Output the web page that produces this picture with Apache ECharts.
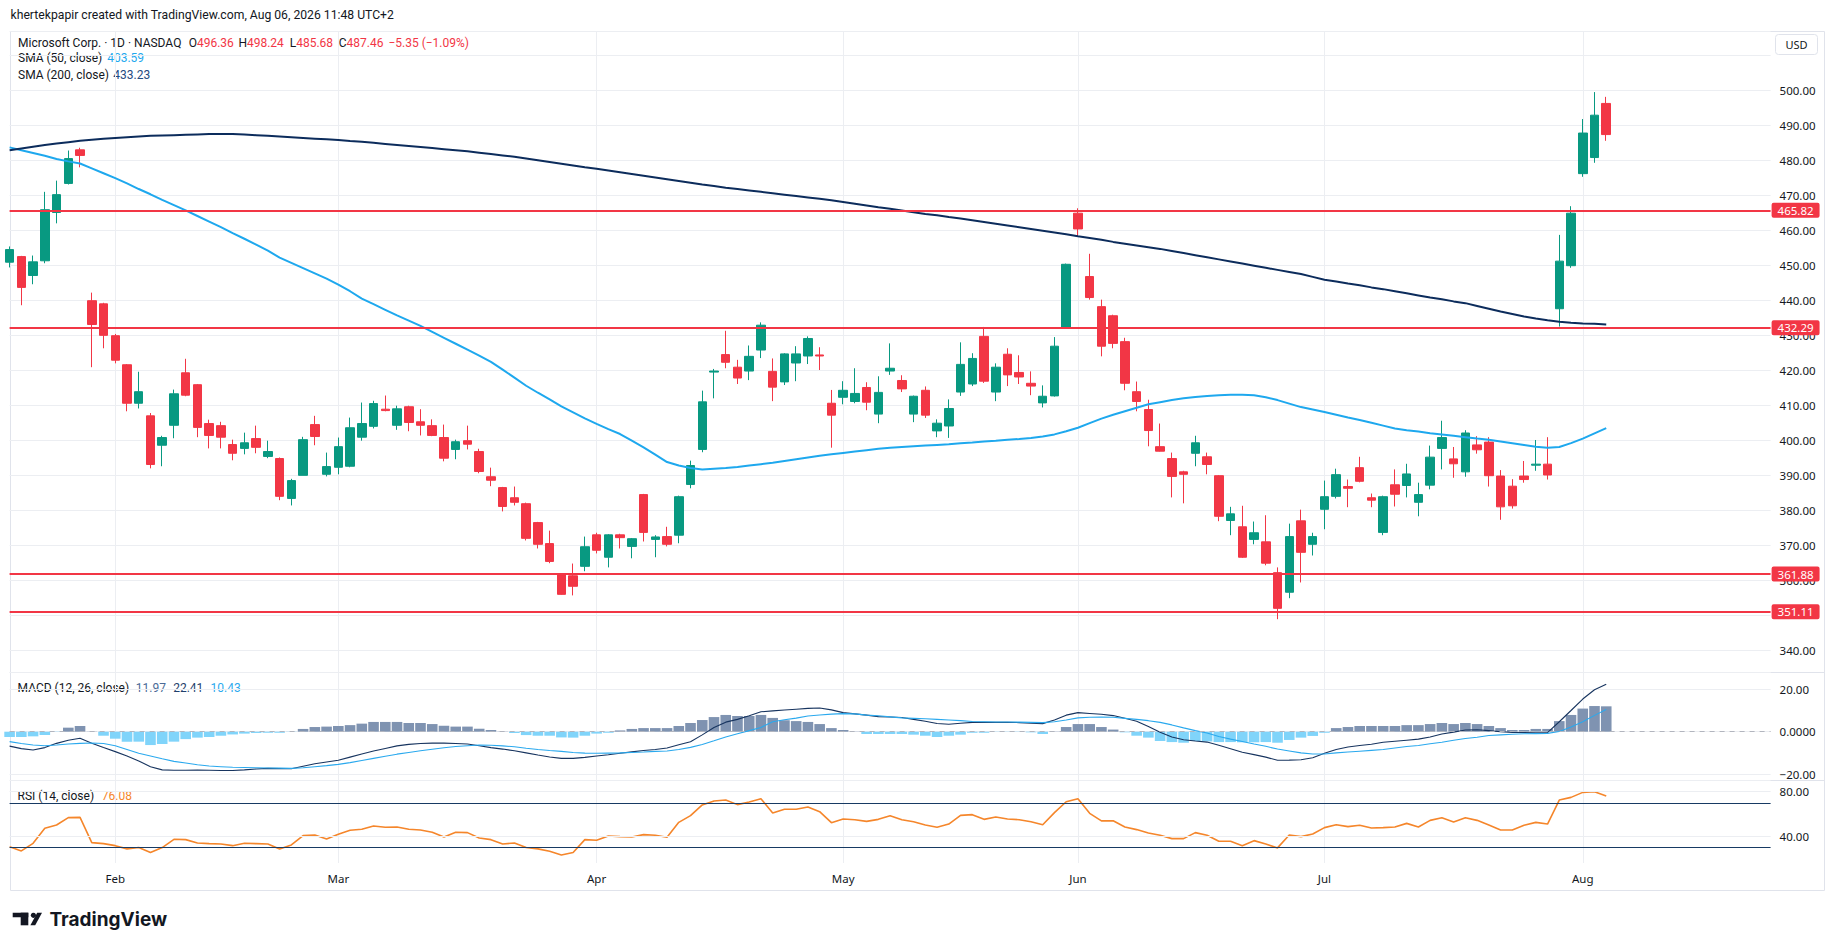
<!DOCTYPE html>
<html>
<head>
<meta charset="utf-8">
<script src="https://cdn.jsdelivr.net/npm/echarts@6/dist/echarts.min.js"></script>
<style>
html,body{margin:0;padding:0;background:#fff;}
#c{width:1835px;height:951px;}
</style>
</head>
<body>
<div id="c"></div>
<script>
// ---------- DATA ----------
const categories = [
"2026-01-20","2026-01-21","2026-01-22","2026-01-23","2026-01-26","2026-01-27","2026-01-28","2026-01-29","2026-01-30",
"2026-02-02","2026-02-03","2026-02-04","2026-02-05","2026-02-06","2026-02-09","2026-02-10","2026-02-11","2026-02-12","2026-02-13",
"2026-02-17","2026-02-18","2026-02-19","2026-02-20","2026-02-23","2026-02-24","2026-02-25","2026-02-26","2026-02-27",
"2026-03-02","2026-03-03","2026-03-04","2026-03-05","2026-03-06","2026-03-09","2026-03-10","2026-03-11","2026-03-12","2026-03-13",
"2026-03-16","2026-03-17","2026-03-18","2026-03-19","2026-03-20","2026-03-23","2026-03-24","2026-03-25","2026-03-26","2026-03-27",
"2026-03-30","2026-03-31",
"2026-04-01","2026-04-02","2026-04-06","2026-04-07","2026-04-08","2026-04-09","2026-04-10","2026-04-13","2026-04-14","2026-04-15",
"2026-04-16","2026-04-17","2026-04-20","2026-04-21","2026-04-22","2026-04-23","2026-04-24","2026-04-27","2026-04-28","2026-04-29","2026-04-30",
"2026-05-01","2026-05-04","2026-05-05","2026-05-06","2026-05-07","2026-05-08","2026-05-11","2026-05-12","2026-05-13","2026-05-14",
"2026-05-15","2026-05-18","2026-05-19","2026-05-20","2026-05-21","2026-05-22","2026-05-26","2026-05-27","2026-05-28","2026-05-29",
"2026-06-01","2026-06-02","2026-06-03","2026-06-04","2026-06-05","2026-06-08","2026-06-09","2026-06-10","2026-06-11","2026-06-12",
"2026-06-15","2026-06-16","2026-06-17","2026-06-18","2026-06-22","2026-06-23","2026-06-24","2026-06-25","2026-06-26","2026-06-29","2026-06-30",
"2026-07-01","2026-07-02","2026-07-06","2026-07-07","2026-07-08","2026-07-09","2026-07-10","2026-07-13","2026-07-14","2026-07-15",
"2026-07-16","2026-07-17","2026-07-20","2026-07-21","2026-07-22","2026-07-23","2026-07-24","2026-07-27","2026-07-28","2026-07-29",
"2026-07-30","2026-07-31",
"2026-08-03","2026-08-04","2026-08-05",
"2026-08-06","2026-08-07","2026-08-10","2026-08-11","2026-08-12","2026-08-13","2026-08-14","2026-08-17","2026-08-18","2026-08-19",
"2026-08-20","2026-08-21","2026-08-24","2026-08-25"
];
const monthTickLabels = {"2026-02-02":"Feb","2026-03-02":"Mar","2026-04-01":"Apr","2026-05-01":"May","2026-06-01":"Jun","2026-07-01":"Jul","2026-08-03":"Aug"};

const opens = [451.0,452.6,447.2,451.4,465.2,473.5,483.1,440.0,439.1,430.0,
421.7,410.7,407.1,398.7,404.4,419.4,416.0,404.9,404.3,398.9,
397.8,400.6,395.5,394.9,383.5,390.1,404.6,390.4,392.4,392.7,
401.0,404.1,409.0,404.4,409.7,405.4,404.3,400.9,397.5,400.0,
396.9,389.7,386.6,383.7,382.0,376.6,370.6,361.7,361.4,364.1,
373.1,366.7,373.1,369.8,384.6,371.8,372.6,373.0,387.5,397.5,
419.6,424.6,421.0,419.9,425.9,419.8,416.8,422.2,424.2,424.5,
410.7,412.4,411.2,415.2,407.6,419.9,417.2,407.6,414.4,402.8,
404.2,413.9,416.2,429.8,413.9,424.7,419.5,416.4,410.8,412.8,
432.2,465.0,446.9,438.3,435.7,428.3,414.0,408.9,398.3,394.9,
391.1,396.4,395.4,390.0,377.2,375.4,371.8,371.1,362.3,356.7,
377.1,370.4,380.4,384.1,386.9,392.3,383.7,373.8,387.4,387.2,
382.4,387.3,397.8,394.8,391.1,398.8,399.6,389.9,387.0,389.9,
393.0,393.3,437.7,450.0,476.3,480.9,496.36];
const highs = [455.5,452.8,452.9,471.1,474.3,482.9,483.7,442.3,439.4,430.5,
421.9,419.7,407.9,401.4,414.6,423.4,416.2,406.0,405.4,400.3,
402.3,404.3,400.0,395.2,389.1,401.1,407.1,396.6,400.9,406.6,
410.9,411.4,412.9,410.0,410.0,409.0,406.1,404.6,400.3,404.3,
397.7,392.3,386.8,386.9,382.3,376.8,374.3,362.0,364.9,372.6,
373.7,373.3,373.4,372.2,384.8,373.0,375.4,384.3,394.3,414.3,
420.5,431.4,423.1,427.2,433.8,423.5,425.0,427.0,429.8,426.7,
414.5,417.0,420.7,416.7,418.4,427.8,418.7,412.9,415.5,406.1,
411.8,428.1,425.0,432.5,422.1,426.4,424.4,419.8,415.8,429.6,
450.6,466.4,453.4,440.3,436.0,429.4,416.9,411.7,404.9,396.6,
391.4,401.4,396.6,390.2,381.1,381.4,376.9,378.7,363.8,376.3,
380.3,373.7,388.6,392.0,388.9,395.4,384.9,384.3,391.8,393.4,
388.0,398.6,405.7,398.2,403.0,401.3,401.0,391.6,389.0,394.2,
400.2,401.0,458.8,467.0,491.9,499.6,498.24];
const lows = [449.5,438.7,444.7,450.7,462.1,473.2,478.1,421.0,426.4,422.1,
408.4,409.2,392.1,392.7,400.7,412.7,401.0,397.8,397.8,394.4,
396.1,396.4,395.0,383.0,381.5,390.1,398.7,389.8,390.4,392.4,
400.0,403.5,408.4,403.1,402.7,401.5,401.3,394.1,394.7,397.5,
390.7,387.0,379.8,381.5,371.5,369.2,365.0,356.0,355.8,362.7,
367.8,363.8,369.2,366.4,371.2,366.7,369.8,370.7,386.4,396.7,
412.1,420.7,416.2,417.3,423.6,411.3,415.9,417.0,421.9,420.2,
398.0,410.4,410.7,408.7,405.0,418.8,413.9,405.3,406.5,401.0,
400.8,412.8,415.6,416.5,411.3,415.6,416.2,413.0,409.5,412.6,
432.0,458.5,440.3,424.1,426.4,414.4,408.4,398.4,396.9,383.8,
382.1,392.7,390.4,377.0,373.0,366.5,370.4,364.4,349.0,355.0,
359.5,367.2,374.7,383.5,381.0,388.1,381.0,373.0,381.2,383.8,
378.4,386.1,391.8,389.4,389.7,396.3,386.9,377.4,380.6,388.0,
391.4,388.9,432.6,449.4,475.4,479.4,485.68];
const closes = [454.6,443.8,451.1,466.0,470.3,480.6,481.5,433.2,430.1,423.0,
410.7,414.0,393.2,400.9,413.4,413.0,403.8,401.5,401.0,396.4,
399.4,398.1,396.9,384.1,388.6,400.3,401.2,392.6,398.3,403.7,
404.9,410.6,408.6,409.1,405.2,404.4,401.5,395.0,399.7,399.0,
391.2,388.7,381.2,382.4,372.1,370.4,365.5,356.1,358.4,369.7,
368.7,373.1,372.3,372.0,373.8,372.5,370.4,384.0,392.9,411.1,
419.9,422.4,417.9,424.1,433.0,415.3,424.8,424.8,429.2,424.2,
407.3,414.4,413.5,411.0,413.8,420.7,414.8,412.7,407.3,405.0,
409.2,421.8,423.5,417.0,421.0,418.8,418.2,415.6,412.7,427.0,
450.4,460.5,440.9,427.0,427.8,416.4,411.2,402.9,397.0,389.8,
390.4,399.4,393.2,378.4,379.1,366.7,373.7,365.0,352.1,372.6,
368.1,372.6,384.0,390.3,386.4,388.4,383.0,384.0,384.7,390.5,
384.6,395.3,400.9,393.4,402.2,397.4,390.0,381.1,381.4,388.9,
393.3,390.2,451.3,465.0,487.9,493.0,487.46];

const sma50 = [483.8,483.0,482.2,481.4,480.5,479.8,479.2,477.8,476.4,475.0,
473.5,471.9,470.4,468.8,467.3,465.8,464.2,462.6,461.0,459.3,
457.7,456.0,454.3,452.3,450.8,449.3,447.8,446.3,444.6,442.7,
440.6,439.0,437.4,435.8,434.3,432.8,431.1,429.4,427.7,426.0,
424.3,422.5,420.3,418.0,415.7,413.7,411.8,409.8,408.1,406.4,
404.8,403.3,401.9,400.0,398.1,396.0,393.9,392.9,392.2,391.8,
392.0,392.2,392.5,392.9,393.3,393.7,394.2,394.7,395.2,395.7,
396.1,396.5,396.9,397.3,397.7,398.0,398.2,398.4,398.6,398.8,
399.0,399.3,399.5,399.8,400.0,400.3,400.5,400.8,401.2,401.8,
402.7,403.7,405.0,406.3,407.4,408.4,409.4,410.4,411.0,411.6,
412.1,412.5,412.8,413.0,413.1,413.1,413.0,412.4,411.6,410.6,
409.6,408.9,408.2,407.4,406.6,405.9,405.1,404.3,403.5,403.0,
402.6,402.1,401.8,401.4,401.0,400.6,400.3,399.8,399.3,398.8,
398.3,398.0,398.2,399.3,400.6,402.1,403.59];
const sma200 = [483.0,483.5,484.0,484.5,484.9,485.3,485.7,486.0,486.3,486.5,
486.7,486.9,487.1,487.2,487.3,487.4,487.5,487.6,487.6,487.6,
487.5,487.3,487.1,486.9,486.7,486.5,486.3,486.1,485.9,485.6,
485.4,485.1,484.8,484.5,484.2,483.9,483.6,483.3,483.0,482.7,
482.3,481.9,481.5,481.1,480.6,480.1,479.6,479.1,478.6,478.1,
477.7,477.2,476.7,476.2,475.7,475.2,474.7,474.2,473.7,473.2,
472.8,472.3,471.9,471.5,471.1,470.7,470.3,469.9,469.5,469.1,
468.7,468.2,467.7,467.2,466.7,466.3,465.8,465.3,464.8,464.4,
463.9,463.5,463.0,462.5,462.0,461.5,461.0,460.5,460.0,459.5,
459.0,458.4,457.9,457.4,456.8,456.3,455.8,455.3,454.8,454.2,
453.6,453.0,452.4,451.8,451.2,450.6,450.0,449.4,448.8,448.2,
447.6,446.8,446.0,445.5,444.9,444.4,443.8,443.3,442.7,442.1,
441.5,440.9,440.4,439.8,439.3,438.5,437.7,436.9,436.2,435.5,
434.9,434.4,434.0,433.7,433.5,433.4,433.23];

const macdLine = [-6.8,-8.0,-8.6,-7.5,-5.5,-4.0,-3.1,-5.5,-7.5,-9.4,
-11.5,-13.8,-16.5,-18.0,-18.2,-18.2,-18.1,-18.2,-18.3,-18.3,
-18.0,-17.6,-17.3,-17.4,-17.5,-16.3,-15.1,-14.3,-13.5,-12.0,
-10.5,-9.1,-7.9,-6.7,-6.0,-5.6,-5.4,-5.4,-5.6,-5.8,
-6.6,-7.5,-8.2,-9.0,-10.0,-11.0,-11.9,-12.6,-12.6,-12.1,
-11.5,-10.9,-10.2,-9.5,-8.9,-8.4,-7.7,-6.2,-4.7,-1.5,
2.0,4.5,5.8,7.5,9.4,9.8,10.2,10.6,11.0,11.2,
10.3,9.0,8.4,7.8,7.1,6.9,6.7,5.8,4.9,3.9,
3.5,4.0,4.4,4.4,4.4,4.4,4.3,4.0,3.8,5.5,
7.8,9.0,8.6,8.2,7.6,6.3,4.9,2.5,-0.3,-2.5,
-3.8,-4.4,-4.9,-6.4,-8.0,-9.7,-10.8,-12.0,-13.5,-13.4,
-13.2,-12.3,-10.2,-8.4,-7.2,-6.5,-5.9,-5.0,-4.5,-4.0,
-3.5,-2.5,-1.1,-0.2,0.8,0.9,0.5,0.0,-0.3,-0.4,
-0.5,-0.4,4.7,10.0,15.4,19.8,22.41];
const signalLine = [-4.7,-5.6,-6.3,-6.6,-6.3,-5.8,-5.5,-5.3,-5.6,-6.6,
-8.4,-10.2,-11.5,-12.8,-14.0,-14.8,-15.6,-16.2,-16.5,-16.8,
-16.9,-17.0,-17.1,-17.2,-17.3,-17.0,-16.5,-16.0,-15.4,-14.6,
-13.6,-12.6,-11.6,-10.6,-9.8,-9.0,-8.3,-7.6,-7.0,-6.6,
-6.3,-6.4,-6.7,-7.1,-7.8,-8.4,-8.9,-9.3,-9.8,-10.1,
-10.2,-10.1,-10.0,-9.8,-9.6,-9.3,-9.1,-8.4,-7.4,-6.0,
-4.3,-2.5,-1.0,0.5,2.0,4.7,5.6,6.4,7.4,7.9,
8.3,8.5,8.4,7.8,7.5,7.0,6.5,6.3,6.1,5.8,
5.5,5.2,4.8,4.7,4.6,4.6,4.5,4.4,4.3,4.7,
5.5,6.5,6.8,6.9,6.8,6.3,5.8,5.2,4.4,3.2,
1.8,0.5,-0.6,-2.3,-3.5,-4.6,-5.8,-6.9,-8.2,-9.1,
-10.0,-10.5,-10.5,-10.0,-9.6,-9.2,-8.8,-8.4,-7.7,-7.0,
-6.5,-5.7,-5.0,-4.0,-3.2,-2.6,-1.8,-1.5,-1.2,-1.0,
-0.9,-0.8,0.1,2.2,4.7,7.7,10.43];
const macdHist = [-2.5,-2.5,-2.2,-1.6,-0.1,1.9,2.7,0.1,-1.9,-3.3,
-4.7,-4.7,-6.3,-5.8,-4.7,-3.5,-2.8,-2.5,-1.9,-1.3,
-0.9,-0.6,-0.5,-0.5,-0.1,1.3,2.2,2.4,2.7,3.1,
3.8,4.6,4.6,4.6,4.1,4.1,3.6,2.8,2.4,2.4,
1.4,0.8,0.1,-0.6,-1.6,-1.9,-1.9,-2.7,-2.8,-1.9,
-0.9,-0.5,0.6,1.3,1.7,1.7,1.7,2.7,4.1,5.5,
6.9,7.9,7.4,7.4,7.9,6.5,5.4,5.0,4.6,3.6,
1.7,0.8,0.1,-1.1,-1.1,-1.1,-1.1,-1.4,-1.9,-2.5,
-1.9,-1.4,-0.5,-0.5,-0.1,-0.1,-0.1,-0.3,-1.1,0.1,
2.2,3.6,3.6,2.2,1.0,-0.3,-1.9,-2.8,-4.4,-4.9,
-5.2,-4.4,-4.6,-4.9,-4.9,-5.0,-5.0,-4.9,-5.2,-3.9,
-2.8,-2.0,-0.5,1.7,2.2,2.7,2.7,2.7,2.7,3.1,
3.1,3.6,4.1,3.6,4.1,3.6,2.7,1.7,0.8,0.8,
1.3,1.3,5.0,7.9,10.9,12.1,11.97];
const rsi = [30.7,26.9,33.7,47.2,50.1,56.7,57.0,34.3,33.4,31.6,
28.7,29.9,25.4,29.9,37.3,37.0,34.0,33.4,33.1,31.6,
33.7,33.4,33.1,28.7,32.2,40.6,41.2,37.6,41.8,45.4,
46.3,49.3,48.1,48.4,46.3,45.7,43.6,39.4,43.6,43.3,
38.5,37.0,33.1,34.0,29.9,28.7,26.6,23.2,25.4,37.0,
36.4,40.3,39.7,39.4,41.5,40.9,39.1,52.5,58.5,68.1,
71.6,72.5,68.4,70.7,73.7,60.9,64.2,64.2,66.3,62.1,
52.2,55.5,54.9,53.4,55.2,58.5,54.9,53.1,50.1,48.1,
51.0,58.8,59.4,55.2,57.3,55.5,54.9,53.1,50.4,61.2,
71.0,73.7,60.6,53.8,54.0,48.4,46.0,43.0,40.9,37.9,
37.9,43.3,40.9,35.5,35.5,31.6,36.1,33.1,29.6,41.2,
39.7,42.1,47.8,50.4,48.7,49.9,47.5,47.8,48.4,51.6,
48.4,54.3,56.7,52.8,56.7,54.3,50.1,45.7,45.7,49.9,
52.5,51.0,72.5,74.9,79.4,80.0,76.08];

const levels = [465.82, 432.29, 361.88, 351.11];
const rsiGuides = [80, 40];
const rsiBands = [70, 30];

// ---------- STYLE ----------
const UP = '#089981', DOWN = '#f23645';
const GRID = '#eceef2';
const TXT = '#131722';
const AXF = 'Noto Sans';
const AXS = 11.5;
const LGF = 'Roboto';
const L = 9.6, R = 64.4;

const candleData = opens.map((o, k) => [o, closes[k], lows[k], highs[k]]);
const fmt2 = v => (v < 0 ? '\u2212' : '') + Math.abs(v).toFixed(2);
// price labels fully covered by a level tag are left out
const coveredByLevel = v => levels.some(l => Math.abs(l - v) < 1.5);

function xAx(idx, showLabels) {
  return {
    type: 'category', gridIndex: idx, data: categories, boundaryGap: false,
    axisLine: {show: false}, axisTick: {show: false},
    axisLabel: {
      show: showLabels, interval: (i, v) => !!monthTickLabels[v],
      formatter: v => monthTickLabels[v] || '', color: TXT, fontFamily: AXF, fontSize: AXS, margin: 9
    },
    splitLine: {show: true, interval: (i, v) => !!monthTickLabels[v], lineStyle: {color: GRID, width: 1}}
  };
}

const chart = echarts.init(document.getElementById('c'), null, {renderer: 'svg', width: 1835, height: 951});

const lg = (x, y, text, fill) => ({type: 'text', silent: true, x: x, y: y,
  style: {text: text, fill: fill || TXT, font: '12px ' + LGF, verticalAlign: 'middle'}});
const kv = (x, y, k, v) => ({type: 'text', silent: true, x: x, y: y, style: {text: '{k|' + k + '}{v|' + v + '}', verticalAlign: 'middle',
  rich: {k: {fill: TXT, font: '12px ' + LGF}, v: {fill: DOWN, font: '12px ' + LGF}}}});

const option = {
  animation: false,
  backgroundColor: '#ffffff',
  grid: [
    {left: L, right: R, top: 31.5, height: 641},
    {left: L, right: R, top: 672.5, height: 108},
    {left: L, right: R, top: 780.5, height: 82.5}
  ],
  xAxis: [xAx(0, false), xAx(1, false), xAx(2, true)],
  yAxis: [
    {type: 'value', gridIndex: 0, position: 'right', min: 333.77, max: 516.91, splitNumber: 18,
     axisLine: {show: false}, axisTick: {show: false},
     axisLabel: {color: TXT, fontFamily: AXF, fontSize: AXS, margin: 9, showMinLabel: false, showMaxLabel: false,
       formatter: v => (v > 505 || v < 335 || coveredByLevel(v)) ? '' : v.toFixed(2)},
     splitLine: {lineStyle: {color: GRID}}},
    {type: 'value', gridIndex: 1, position: 'right', min: -23.02, max: 27.92, splitNumber: 3,
     axisLine: {show: false}, axisTick: {show: false},
     axisLabel: {color: TXT, fontFamily: AXF, fontSize: AXS, margin: 9, showMinLabel: false, showMaxLabel: false,
       formatter: v => Math.abs(v) < 1e-9 ? '0.0000' : fmt2(v)},
     splitLine: {lineStyle: {color: GRID}}},
    {type: 'value', gridIndex: 2, position: 'right', min: 16.05, max: 90.04,
     axisLine: {show: false}, axisTick: {show: false}, axisLabel: {show: false}, splitLine: {show: false}}
  ],
  series: [
    {type: 'candlestick', name: 'MSFT', xAxisIndex: 0, yAxisIndex: 0, data: candleData, barWidth: 9, clip: true,
     itemStyle: {color: UP, color0: DOWN, borderColor: UP, borderColor0: DOWN, borderWidth: 1},
     markLine: {silent: true, symbol: ['none', 'none'], animation: false,
       lineStyle: {color: DOWN, width: 2, type: 'solid'},
       label: {position: 'end', distance: 1, formatter: p => p.value.toFixed(2), color: '#ffffff',
         backgroundColor: DOWN, padding: [2, 6, 1, 6], borderRadius: 2, fontFamily: AXF, fontSize: AXS},
       data: levels.map(v => ({yAxis: v}))}
    },
    {type: 'line', name: 'SMA 50', xAxisIndex: 0, yAxisIndex: 0, data: sma50, showSymbol: false, symbol: 'none',
     lineStyle: {color: '#1ea8ee', width: 2}, z: 3},
    {type: 'line', name: 'SMA 200', xAxisIndex: 0, yAxisIndex: 0, data: sma200, showSymbol: false, symbol: 'none',
     lineStyle: {color: '#0c2c5c', width: 2}, z: 3},
    {type: 'bar', name: 'Histogram', xAxisIndex: 1, yAxisIndex: 1, data: macdHist, barWidth: 10.6, clip: true,
     itemStyle: {color: p => p.value >= 0 ? '#7f93b1' : '#80d4fa'},
     markLine: {silent: true, symbol: ['none', 'none'], animation: false, label: {show: false},
       lineStyle: {color: '#b2b5be', width: 1, type: [5, 5]}, data: [{yAxis: 0}]}
    },
    {type: 'line', name: 'MACD', xAxisIndex: 1, yAxisIndex: 1, data: macdLine, showSymbol: false, symbol: 'none',
     lineStyle: {color: '#17345f', width: 1.1}, z: 4},
    {type: 'line', name: 'Signal', xAxisIndex: 1, yAxisIndex: 1, data: signalLine, showSymbol: false, symbol: 'none',
     lineStyle: {color: '#2aa9ee', width: 1.1}, z: 4},
    {type: 'line', name: 'RSI', xAxisIndex: 2, yAxisIndex: 2, data: rsi, showSymbol: false, symbol: 'none',
     lineStyle: {color: '#f5862b', width: 1.6}, z: 4,
     markLine: {silent: true, symbol: ['none', 'none'], animation: false,
       data: rsiGuides.map(v => ({yAxis: v, lineStyle: {color: GRID, width: 1, type: 'solid'},
               label: {show: true, position: 'end', distance: 9, formatter: p => p.value.toFixed(2), color: TXT, fontFamily: AXF, fontSize: AXS}}))
         .concat(rsiBands.map(v => ({yAxis: v, lineStyle: {color: '#173a63', width: 1, type: 'solid'}, label: {show: false}})))}
    }
  ],
  graphic: [
    {type: 'rect', silent: true, z: -10, shape: {x: 10.5, y: 31.5, width: 1814, height: 859},
     style: {fill: 'none', stroke: '#e0e3eb', lineWidth: 1}},
    {type: 'line', silent: true, shape: {x1: 10.5, y1: 672.5, x2: 1824.5, y2: 672.5}, style: {stroke: '#e0e3eb', lineWidth: 1.2}},
    {type: 'line', silent: true, shape: {x1: 10.5, y1: 780.5, x2: 1824.5, y2: 780.5}, style: {stroke: '#e0e3eb', lineWidth: 1.2}},
    {type: 'text', silent: true, x: 10.5, y: 15, style: {text: 'khertekpapir created with TradingView.com, Aug 06, 2026 11:48 UTC+2',
      fill: TXT, font: '12.2px ' + LGF, verticalAlign: 'middle'}},
    lg(18, 42.7, 'Microsoft Corp. \u00b7 1D \u00b7 NASDAQ'),
    kv(188.7, 42.7, 'O', '496.36'),
    kv(238.4, 42.7, 'H', '498.24'),
    kv(289.7, 42.7, 'L', '485.68'),
    kv(338.7, 42.7, 'C', '487.46'),
    lg(388.4, 42.7, '\u22125.35 (\u22121.09%)', DOWN),
    lg(18, 58.3, 'SMA (50, close)'),
    lg(107.2, 58.3, '403.59', '#1ea8ee'),
    lg(18, 75.3, 'SMA (200, close)'),
    lg(113.3, 75.3, '433.23', '#1f4a80'),
    lg(17.6, 688.3, 'MACD (12, 26, close)'),
    lg(135.8, 688.3, '11.97', '#4a6a96'),
    lg(173.2, 688.3, '22.41', '#1f3f6c'),
    lg(210.6, 688.3, '10.43', '#2aa9ee'),
    lg(17.6, 796, 'RSI (14, close)'),
    lg(101.8, 796, '76.08', '#f5862b'),
    {type: 'rect', silent: true, shape: {x: 1775.5, y: 34.5, width: 42, height: 20, r: 3}, style: {fill: '#ffffff', stroke: '#e0e3eb', lineWidth: 1}},
    {type: 'text', silent: true, x: 1796.5, y: 44.5, style: {text: 'USD', fill: TXT, font: '11px ' + AXF, align: 'center', verticalAlign: 'middle'}},
    // TradingView logo
    {type: 'rect', silent: true, shape: {x: 12.7, y: 912.7, width: 15.6, height: 4.6}, style: {fill: TXT}},
    {type: 'rect', silent: true, shape: {x: 20.7, y: 912.7, width: 7.6, height: 12.6}, style: {fill: TXT}},
    {type: 'circle', silent: true, shape: {cx: 33.4, cy: 915.3, r: 2.6}, style: {fill: TXT}},
    {type: 'polygon', silent: true, shape: {points: [[37.2, 912.7], [42, 912.7], [35.2, 925.3], [30.4, 925.3]]}, style: {fill: TXT}},
    {type: 'text', silent: true, x: 49.5, y: 919.2, style: {text: 'TradingView', fill: TXT, font: 'bold 19px Inter', verticalAlign: 'middle'}}
  ]
};
chart.setOption(option);
</script>
</body>
</html>
